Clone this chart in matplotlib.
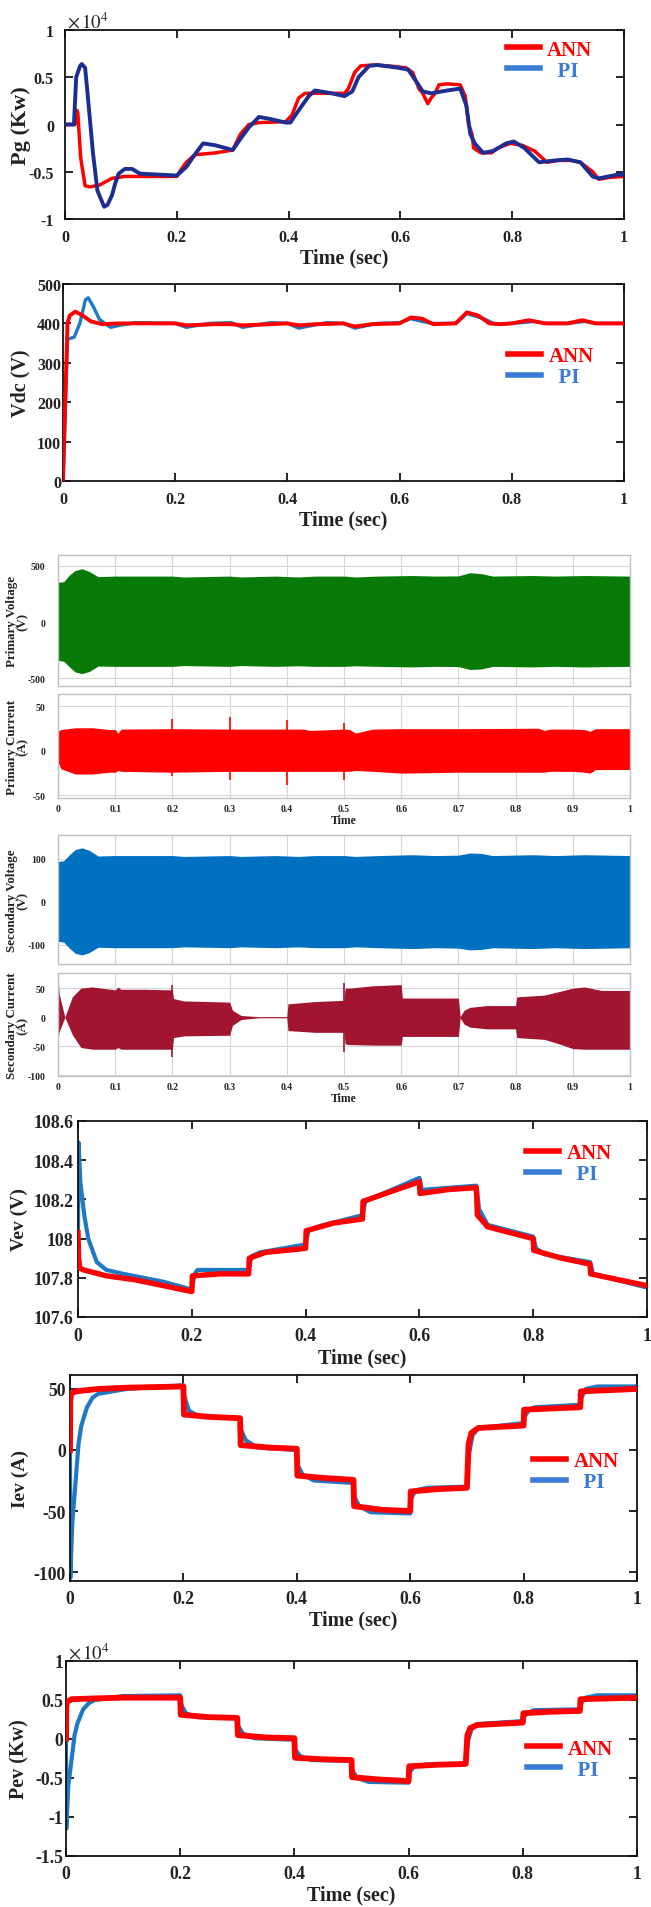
import matplotlib
matplotlib.use("Agg")
import matplotlib.pyplot as plt
from matplotlib.lines import Line2D

plt.rcParams['font.family'] = ['Liberation Serif', 'DejaVu Serif']
plt.rcParams['axes.unicode_minus'] = False
plt.rcParams['mathtext.fontset'] = 'stix'

# ---------------- data ----------------
pg_t_ann = [0, 0.018, 0.021, 0.023, 0.028, 0.036, 0.045, 0.062, 0.084, 0.106,
            0.2, 0.205, 0.217, 0.232, 0.27, 0.3, 0.314, 0.329, 0.347, 0.395,
            0.406, 0.418, 0.429, 0.5, 0.507, 0.518, 0.529, 0.551, 0.58, 0.61,
            0.622, 0.633, 0.64, 0.649, 0.655, 0.662, 0.669, 0.684, 0.707, 0.716,
            0.722, 0.728, 0.731, 0.744, 0.763, 0.774, 0.796, 0.818, 0.84, 0.862,
            0.884, 0.906, 0.922, 0.944, 0.955, 0.974, 1.0]
pg_ann = [0, 0, 0.15, 0.12, -0.35, -0.65, -0.66, -0.64, -0.57, -0.55,
          -0.55, -0.5, -0.4, -0.32, -0.3, -0.27, -0.1, 0.0, 0.02, 0.03,
          0.1, 0.28, 0.33, 0.33, 0.38, 0.55, 0.62, 0.63, 0.62, 0.6,
          0.55, 0.38, 0.33, 0.22, 0.28, 0.33, 0.42, 0.43, 0.42, 0.3,
          0.0, -0.1, -0.25, -0.3, -0.3, -0.25, -0.2, -0.22, -0.28, -0.4,
          -0.38, -0.38, -0.4, -0.5, -0.58, -0.56, -0.55]
pg_t_pi = [0, 0.016, 0.02, 0.027, 0.03, 0.036, 0.04, 0.05, 0.058, 0.07,
           0.076, 0.084, 0.09, 0.096, 0.107, 0.12, 0.134, 0.2, 0.217, 0.232,
           0.247, 0.269, 0.3, 0.314, 0.329, 0.347, 0.366, 0.395, 0.403, 0.418,
           0.436, 0.447, 0.477, 0.5, 0.514, 0.525, 0.544, 0.559, 0.596, 0.614,
           0.629, 0.64, 0.655, 0.684, 0.707, 0.718, 0.725, 0.733, 0.748, 0.766,
           0.789, 0.803, 0.822, 0.848, 0.877, 0.899, 0.922, 0.944, 0.955, 0.989, 1.0]
pg_pi = [0, 0, 0.5, 0.62, 0.64, 0.6, 0.35, -0.3, -0.7, -0.87,
         -0.85, -0.75, -0.62, -0.52, -0.47, -0.47, -0.52, -0.54, -0.45, -0.32,
         -0.2, -0.22, -0.27, -0.15, -0.03, 0.08, 0.06, 0.02, 0.02, 0.15,
         0.3, 0.36, 0.33, 0.3, 0.35, 0.5, 0.62, 0.63, 0.6, 0.58,
         0.45, 0.35, 0.33, 0.36, 0.38, 0.2, -0.1, -0.2, -0.3, -0.28,
         -0.2, -0.18, -0.25, -0.4, -0.38, -0.37, -0.4, -0.55, -0.57, -0.53, -0.53]

vdc_t_ann = [0, 0.008, 0.012, 0.022, 0.035, 0.05, 0.07, 0.1, 0.2, 0.22, 0.27, 0.3,
             0.32, 0.37, 0.4, 0.42, 0.45, 0.5, 0.52, 0.55, 0.6, 0.62, 0.64, 0.66,
             0.7, 0.72, 0.74, 0.76, 0.78, 0.8, 0.83, 0.86, 0.9, 0.925, 0.95, 1.0]
vdc_ann = [0, 400, 420, 430, 420, 405, 398, 400, 400, 395, 398, 398,
           395, 398, 400, 395, 398, 400, 392, 398, 400, 415, 412, 398,
           400, 428, 420, 400, 398, 400, 408, 400, 400, 408, 400, 400]
vdc_t_pi = [0, 0.008, 0.02, 0.03, 0.04, 0.045, 0.055, 0.065, 0.085, 0.1, 0.13, 0.2,
            0.22, 0.26, 0.3, 0.32, 0.37, 0.4, 0.42, 0.47, 0.5, 0.52, 0.56, 0.6,
            0.62, 0.64, 0.66, 0.7, 0.72, 0.75, 0.77, 0.82, 0.84, 0.86, 0.9, 0.93, 0.95, 1.0]
vdc_pi = [0, 360, 365, 400, 460, 465, 440, 410, 390, 395, 402, 400,
          390, 400, 402, 390, 402, 400, 388, 402, 400, 388, 400, 402,
          412, 405, 400, 400, 425, 412, 398, 402, 405, 400, 400, 405, 400, 400]

pv_t = [0, 0.01, 0.02, 0.03, 0.042, 0.055, 0.07, 0.1, 0.2, 0.22, 0.3, 0.32, 0.38, 0.42,
        0.45, 0.5, 0.52, 0.56, 0.62, 0.66, 0.7, 0.72, 0.74, 0.76, 0.83, 0.87, 0.92, 1.0]
pv_hi = [355, 360, 420, 460, 475, 450, 405, 410, 410, 402, 410, 402, 410, 402,
         410, 410, 402, 410, 415, 410, 412, 440, 432, 410, 415, 410, 415, 410]
pv_lo = [-340, -350, -400, -445, -460, -440, -392, -395, -395, -388, -395, -388, -395, -390,
         -395, -395, -390, -395, -400, -395, -397, -423, -418, -395, -400, -395, -400, -395]

pc_t = [0, 0.005, 0.03, 0.06, 0.09, 0.1, 0.105, 0.11, 0.2, 0.3, 0.43, 0.44, 0.5,
        0.51, 0.52, 0.55, 0.6, 0.7, 0.84, 0.85, 0.86, 0.9, 0.92, 0.93, 0.94, 1.0]
pc_hi = [22, 24, 26, 26, 24, 24, 20, 24.5, 25, 24.5, 24.5, 23, 24.5,
         24, 20, 24.5, 25, 25, 25.5, 23, 24.5, 24.5, 24, 22, 25, 25]
pc_lo = [-12, -20, -26, -26, -24, -24, -22, -23, -24, -23, -23, -23, -23,
         -23, -22, -23, -25, -24, -24, -24, -23, -23, -24, -25, -21, -21]
pc_spike_t = [0.0, 0.2, 0.3, 0.4, 0.5]
pc_spike_hi = [52, 36, 38, 35, 31]
pc_spike_lo = [-40, -28, -33, -38, -33]

sv_t = [0, 0.01, 0.02, 0.03, 0.042, 0.055, 0.07, 0.1, 0.2, 0.22, 0.3, 0.32, 0.38, 0.42,
        0.45, 0.5, 0.52, 0.56, 0.62, 0.66, 0.7, 0.72, 0.74, 0.76, 0.83, 0.87, 0.92, 1.0]
sv_hi = [94, 96, 110, 122, 126, 120, 107, 108, 108, 106, 108, 106, 108, 106,
         108, 108, 106, 108, 110, 108, 109, 114, 113, 108, 110, 108, 110, 108]
sv_lo = [-92, -94, -108, -120, -124, -118, -106, -107, -107, -105, -107, -105, -107, -105,
         -107, -107, -105, -107, -109, -107, -108, -112, -111, -107, -109, -107, -109, -107]

sc_t = [0.0, 0.002, 0.012, 0.025, 0.04, 0.06, 0.1, 0.105, 0.11, 0.15, 0.2, 0.202, 0.22,
        0.3, 0.305, 0.32, 0.35, 0.4, 0.402, 0.45, 0.5, 0.502, 0.51, 0.55, 0.6, 0.602,
        0.7, 0.703, 0.71, 0.72, 0.75, 0.8, 0.802, 0.85, 0.88, 0.9, 0.92, 0.95, 1.0]
sc_hi = [72, 40, 0, 35, 50, 52, 47, 52, 48, 48, 47, 32, 28,
         26, 12, 3, 1, 1, 23, 27, 29, 50, 50, 54, 56, 33,
         33, 1, 12, 17, 20, 20, 35, 38, 45, 50, 52, 46, 46]
sc_lo = [-35, -25, 0, -30, -52, -55, -55, -52, -55, -55, -55, -35, -32,
         -31, -14, -4, -1, -1, -23, -26, -26, -46, -47, -48, -48, -33,
         -33, -1, -12, -17, -20, -20, -35, -38, -47, -54, -55, -55, -55]
sc_spike_t = [0.0, 0.2, 0.5]
sc_spike_hi = [75, 55, 58]
sc_spike_lo = [-100, -68, -60]

vev_t_ann = [0, 0.001, 0.003, 0.01, 0.05, 0.1, 0.15, 0.2, 0.201, 0.25, 0.3, 0.301, 0.33,
             0.4, 0.401, 0.45, 0.5, 0.501, 0.54, 0.6, 0.601, 0.65, 0.7, 0.702, 0.72,
             0.76, 0.8, 0.801, 0.85, 0.9, 0.901, 0.95, 1.0]
vev_ann = [108.03, 107.9, 107.85, 107.84, 107.81, 107.79, 107.76, 107.73, 107.81, 107.82,
           107.82, 107.9, 107.93, 107.95, 108.04, 108.08, 108.1, 108.19, 108.23, 108.29,
           108.23, 108.25, 108.26, 108.12, 108.06, 108.03, 108.0, 107.94, 107.9, 107.87,
           107.82, 107.79, 107.76]
vev_t_pi = [0, 0.001, 0.004, 0.011, 0.018, 0.033, 0.05, 0.08, 0.15, 0.2, 0.205, 0.21,
            0.3, 0.305, 0.32, 0.4, 0.405, 0.42, 0.5, 0.505, 0.52, 0.6, 0.605, 0.61,
            0.7, 0.705, 0.72, 0.8, 0.805, 0.82, 0.9, 0.905, 1.0]
vev_pi = [108.05, 108.49, 108.29, 108.12, 108.0, 107.88, 107.84, 107.82, 107.78, 107.74,
          107.82, 107.84, 107.84, 107.91, 107.93, 107.97, 108.04, 108.06, 108.12, 108.19,
          108.21, 108.31, 108.24, 108.25, 108.27, 108.15, 108.07, 108.01, 107.95, 107.92,
          107.88, 107.82, 107.75]

iev_t_ann = [0, 0.0005, 0.002, 0.01, 0.05, 0.1, 0.2, 0.201, 0.25, 0.3, 0.301, 0.35, 0.4,
             0.401, 0.45, 0.5, 0.501, 0.55, 0.6, 0.601, 0.65, 0.7, 0.703, 0.708, 0.72,
             0.8, 0.801, 0.85, 0.9, 0.901, 0.95, 1.0]
iev_ann = [0, 40, 46, 48, 50, 51, 52, 29, 27, 26, 4, 2, 1, -21, -23, -24.5, -46, -49, -50,
           -34, -32, -31, 5, 14, 18, 20, 33, 34, 35, 48, 49, 50]
iev_t_pi = [0, 0.0005, 0.004, 0.01, 0.015, 0.02, 0.03, 0.04, 0.05, 0.1, 0.2, 0.201, 0.21,
            0.23, 0.3, 0.301, 0.31, 0.33, 0.4, 0.401, 0.41, 0.43, 0.5, 0.501, 0.51, 0.53,
            0.6, 0.601, 0.61, 0.63, 0.7, 0.703, 0.71, 0.72, 0.8, 0.801, 0.81, 0.82, 0.9,
            0.901, 0.91, 0.93, 1.0]
iev_pi = [0, -105, -60, -25, 5, 20, 35, 43, 46, 50, 53, 45, 32, 27, 26, 17, 8, 2, 0, -12,
          -20, -25, -27, -38, -46, -51, -52, -40, -33, -31, -30, -5, 12, 18, 22, 27, 33,
          35, 37, 42, 50, 52, 52]

pev_t_ann = iev_t_ann
pev_ann = [0, 0.42, 0.48, 0.51, 0.52, 0.53, 0.53, 0.31, 0.28, 0.27, 0.05, 0.02, 0.01,
           -0.24, -0.26, -0.27, -0.49, -0.52, -0.54, -0.35, -0.33, -0.32, 0.05, 0.14, 0.18,
           0.21, 0.33, 0.35, 0.36, 0.51, 0.52, 0.53]
pev_t_pi = iev_t_pi
pev_pi = [0, -1.15, -0.6, -0.25, 0.05, 0.2, 0.38, 0.46, 0.5, 0.55, 0.56, 0.45, 0.33, 0.28,
          0.27, 0.17, 0.07, 0.01, -0.01, -0.13, -0.22, -0.27, -0.28, -0.4, -0.5, -0.55,
          -0.56, -0.43, -0.35, -0.33, -0.32, -0.05, 0.12, 0.19, 0.23, 0.28, 0.34, 0.37,
          0.38, 0.45, 0.53, 0.56, 0.56]

time_ticks = [0, 0.2, 0.4, 0.6, 0.8, 1]
time_labels = ['0', '0.2', '0.4', '0.6', '0.8', '1']
sim_ticks = [0, 0.1, 0.2, 0.3, 0.4, 0.5, 0.6, 0.7, 0.8, 0.9, 1]
sim_labels = ['0', '0.1', '0.2', '0.3', '0.4', '0.5', '0.6', '0.7', '0.8', '0.9', '1']

# ---------------- figure ----------------
W, H = 651, 1908
fig = plt.figure(figsize=(W / 100, H / 100), dpi=100)


def add_ax(x0, x1, y0, y1):
    return fig.add_axes([x0 / W, 1 - y1 / H, (x1 - x0) / W, (y1 - y0) / H])


RED = '#ff0000'
BLUE_LEG = '#3a7bd5'
BLUE_LINE = '#1f78c4'


def matlab_style(ax, yticks, ylabels, ylabel, ylim, tick_fs, ylab_fs, ypad, ylab_x,
                 xpad=7, xlab_pad=2):
    ax.set_xlim(0, 1)
    ax.set_ylim(*ylim)
    ax.set_xticks(time_ticks)
    ax.set_xticklabels(time_labels)
    ax.set_yticks(yticks)
    ax.set_yticklabels(ylabels)
    ax.tick_params(direction='in', top=True, right=True, length=5.5, width=1.2,
                   labelsize=tick_fs)
    ax.tick_params(axis='x', pad=xpad)
    ax.tick_params(axis='y', pad=ypad)
    for lab in ax.get_xticklabels() + ax.get_yticklabels():
        lab.set_fontweight('bold')
        lab.set_color('#222222')
    for s in ax.spines.values():
        s.set_linewidth(1.3)
        s.set_color('#111111')
    ax.set_xlabel('Time (sec)', fontsize=14.5, fontweight='bold', labelpad=xlab_pad,
                  color='#222222')
    ax.set_ylabel(ylabel, fontsize=ylab_fs, fontweight='bold', color='#222222')
    ax.yaxis.set_label_coords(ylab_x, 0.5)


def add_legend(ax, x, y, pi_color=BLUE_LEG, fs=15):
    h = [Line2D([], [], color=RED, lw=4), Line2D([], [], color=pi_color, lw=4)]
    leg = ax.legend(h, ['ANN', '  PI'], loc='center left', bbox_to_anchor=(x, y),
                    frameon=False, borderpad=0, borderaxespad=0, handlelength=1.6,
                    handletextpad=0.35, labelspacing=0.05,
                    prop={'family': 'Liberation Serif', 'weight': 'bold', 'size': fs},
                    labelcolor=[RED, pi_color])
    return leg


# Panel 1: Pg
ax1 = add_ax(65, 624, 31, 220)
ax1.plot(pg_t_pi, pg_pi, color='#1c2e91', lw=2.8, zorder=3)
ax1.plot(pg_t_ann, pg_ann, color=RED, lw=2.5, zorder=2)
matlab_style(ax1, [-1, -0.5, 0, 0.5, 1], ['-1', '-0.5', '0', '0.5', '1'], 'Pg (Kw)', (-1, 1),
             tick_fs=11.5, ylab_fs=16, ypad=8, ylab_x=-0.061)
ax1.text(0.004, 1.045, r'$\times\,10^{4}$', transform=ax1.transAxes, fontsize=13.5,
         va='center', ha='left', color='#222222')
add_legend(ax1, 0.79, 0.84)

# Panel 2: Vdc
ax2 = add_ax(63, 624, 285, 482)
ax2.plot(vdc_t_pi, vdc_pi, color=BLUE_LINE, lw=2.4, zorder=2)
ax2.plot(vdc_t_ann, vdc_ann, color=RED, lw=2.8, zorder=3)
matlab_style(ax2, [0, 100, 200, 300, 400, 500], ['0', '100', '200', '300', '400', '500'],
             'Vdc (V)', (0, 500), tick_fs=11.5, ylab_fs=14.5, ypad=1.5, ylab_x=-0.058)
add_legend(ax2, 0.793, 0.579)


def sim_style(ax, yticks, ylabels, ylabel, ylim, show_x):
    ax.set_xlim(0, 1)
    ax.set_ylim(*ylim)
    ax.set_xticks(sim_ticks)
    ax.set_yticks(yticks)
    ax.set_yticklabels(ylabels)
    if show_x:
        ax.set_xticklabels(sim_labels)
        ax.set_xlabel('Time', fontsize=8.5, fontweight='bold', labelpad=1, color='#222222')
    else:
        ax.set_xticklabels([])
    ax.grid(True, color='#d6d6d6', lw=0.8)
    ax.set_axisbelow(True)
    ax.tick_params(direction='in', length=0, labelsize=7, colors='#222222')
    ax.tick_params(axis='y', pad=9)
    ax.tick_params(axis='x', pad=4)
    for lab in ax.get_xticklabels() + ax.get_yticklabels():
        lab.set_fontweight('bold')
    for s in ax.spines.values():
        s.set_color('#c0c0c0')
        s.set_linewidth(1.0)
    ax.set_ylabel(ylabel, fontsize=9.4, fontweight='bold', linespacing=0.8, color='#222222')
    ax.yaxis.set_label_coords(-0.052, 0.5)


ax3 = add_ax(58, 630, 556, 687)
ax3.fill_between(pv_t, pv_lo, pv_hi, color='#087a08', lw=0)
sim_style(ax3, [-500, 0, 500], ['-500', '0', '500'], 'Primary Voltage\n(V)', (-570, 598), False)

ax4 = add_ax(58, 630, 695, 799)
ax4.fill_between(pc_t, pc_lo, pc_hi, color='#ff0000', lw=0)
ax4.vlines(pc_spike_t, pc_spike_lo, pc_spike_hi, color='#ff0000', lw=1.2)
sim_style(ax4, [-50, 0, 50], ['-50', '0', '50'], 'Primary Current\n(A)', (-53, 64), True)

ax5 = add_ax(58, 630, 836, 965)
ax5.fill_between(sv_t, sv_lo, sv_hi, color='#0070c0', lw=0)
sim_style(ax5, [-100, 0, 100], ['-100', '0', '100'], 'Secondary Voltage\n(V)', (-145, 156), False)

ax6 = add_ax(58, 630, 974, 1077)
ax6.fill_between(sc_t, sc_lo, sc_hi, color='#a11530', lw=0)
ax6.vlines(sc_spike_t, sc_spike_lo, sc_spike_hi, color='#a11530', lw=1.2)
sim_style(ax6, [-100, -50, 0, 50], ['-100', '-50', '0', '50'], 'Secondary Current\n(A)',
          (-101, 76), True)

# Panel 5: Vev
ax7 = add_ax(78, 647, 1122, 1318)
ax7.plot(vev_t_pi, vev_pi, color=BLUE_LINE, lw=3.0, zorder=2)
ax7.plot(vev_t_ann, vev_ann, color=RED, lw=3.9, zorder=3)
matlab_style(ax7, [107.6, 107.8, 108, 108.2, 108.4, 108.6],
             ['107.6', '107.8', '108', '108.2', '108.4', '108.6'], 'Vev (V)', (107.6, 108.6),
             tick_fs=12.8, ylab_fs=14, ypad=3, ylab_x=-0.087, xpad=7.5)
add_legend(ax7, 0.787, 0.782)

# Panel 6: Iev
ax8 = add_ax(70, 637, 1376, 1582)
ax8.plot(iev_t_pi, iev_pi, color=BLUE_LINE, lw=3.0, zorder=2)
ax8.plot(iev_t_ann, iev_ann, color=RED, lw=4.2, zorder=3)
matlab_style(ax8, [-100, -50, 0, 50], ['-100', '-50', '0', '50'], 'Iev (A)', (-107.3, 61.4),
             tick_fs=12.7, ylab_fs=14, ypad=3, ylab_x=-0.072, xpad=6.5)
add_legend(ax8, 0.816, 0.532)

# Panel 7: Pev
ax9 = add_ax(66, 637, 1662, 1857)
ax9.plot(pev_t_pi, pev_pi, color=BLUE_LINE, lw=3.0, zorder=2)
ax9.plot(pev_t_ann, pev_ann, color=RED, lw=4.2, zorder=3)
matlab_style(ax9, [-1.5, -1, -0.5, 0, 0.5, 1], ['-1.5', '-1', '-0.5', '0', '0.5', '1'],
             'Pev (Kw)', (-1.5, 1), tick_fs=12.7, ylab_fs=14.5, ypad=2, ylab_x=-0.064,
             xpad=6.5)
ax9.text(0.004, 1.045, r'$\times\,10^{4}$', transform=ax9.transAxes, fontsize=13.5,
         va='center', ha='left', color='#222222')
add_legend(ax9, 0.807, 0.497)

fig.savefig('out.png', dpi=100)
